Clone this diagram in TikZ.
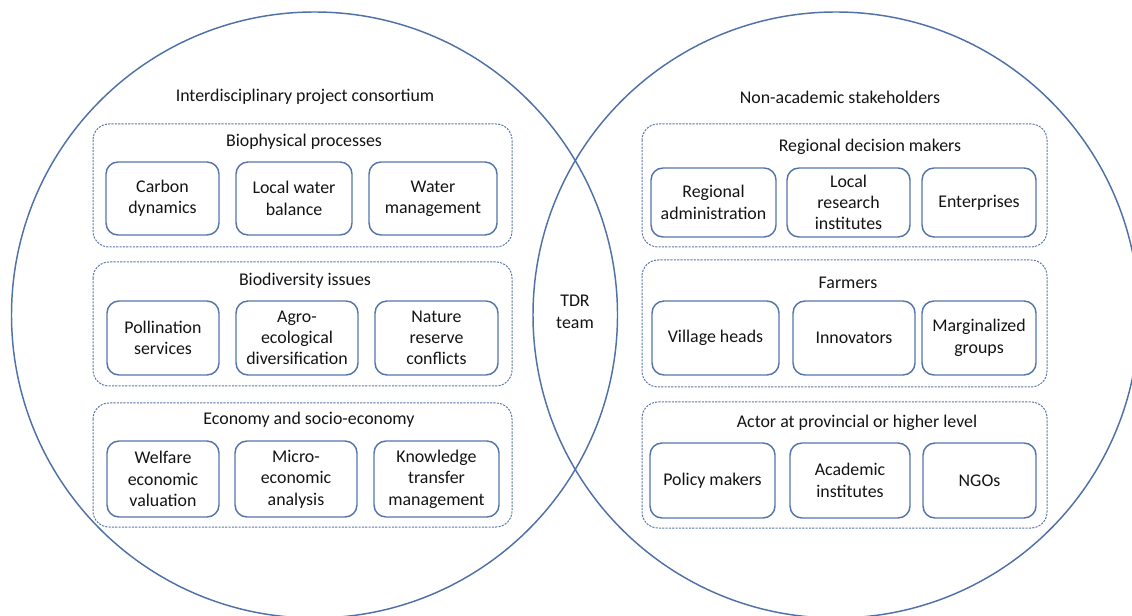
\documentclass[tikz,border=0pt]{standalone}
\usepackage{fontspec}
\setmainfont{Carlito}
\usetikzlibrary{positioning}
\definecolor{ringblue}{RGB}{79,113,168}
\definecolor{boxblue}{RGB}{84,116,170}
\definecolor{dashblue}{RGB}{90,118,168}
\definecolor{inktext}{RGB}{20,20,20}
\tikzset{
	ring/.style={draw=ringblue, line width=1.1pt},
	group/.style={draw=dashblue, line width=0.75pt, dash pattern=on 1.6pt off 0.9pt, rounded corners=12pt},
	item/.style={draw=boxblue, line width=1.1pt, rounded corners=9pt, align=center, inner sep=1pt, text=inktext},
	caption/.style={text=inktext, inner sep=0pt, align=center}
}

\begin{document}
\begin{tikzpicture}[x=0.75pt, y=-0.75pt, font=\fontsize{13.4pt}{16pt}\selectfont]
		%%%%% START %%%%%
		
		\useasboundingbox (0, 0) rectangle (1132, 616);
		
		\draw[ring] (314.5, 315) circle (227.25pt);
		\draw[ring] (836, 315) circle (227.25pt);
		
		\node[caption] (consortium) at (305, 97) {Interdisciplinary project consortium};
		\node[caption] (stakeholders) at (840, 97) {Non-academic stakeholders};
		\node[caption] (tdr) at (575, 312) {TDR\\team};
		
		%%%%% LEFT %%%%%
		\draw[group] (93, 124) rectangle (512, 247);
		\draw[group] (93, 262) rectangle (512, 386);
		\draw[group] (93, 403) rectangle (512, 527);
		
		\node[caption] (biophys) at (304, 142) {Biophysical processes};
		\node[item, minimum width=84.75pt, minimum height=54.75pt] (carbon) at (162.5, 198.5) {Carbon\\dynamics};
		\node[item, minimum width=87pt, minimum height=54.75pt] (water) at (294, 198.5) {Local water\\balance};
		\node[item, minimum width=96pt, minimum height=54.75pt] (watermgmt) at (433, 198.5) {Water\\management};
		
		\node[caption] (biodiv) at (305, 281) {Biodiversity issues};
		\node[item, minimum width=84pt, minimum height=55.5pt] (pollination) at (163, 338) {Pollination\\services};
		\node[item, minimum width=91.5pt, minimum height=55.5pt] (agro) at (297, 338) {Agro-\\ecological\\diversification};
		\node[item, minimum width=92.25pt, minimum height=55.5pt] (nature) at (436.5, 338) {Nature\\reserve\\conflicts};
		
		\node[caption] (economy) at (309, 420) {Economy and socio-economy};
		\node[item, minimum width=84pt, minimum height=57pt] (welfare) at (163, 479) {Welfare\\economic\\valuation};
		\node[item, minimum width=91.5pt, minimum height=57pt] (micro) at (296, 479) {Micro-\\economic\\analysis};
		\node[item, minimum width=93.75pt, minimum height=57pt] (knowledge) at (436.5, 479) {Knowledge\\transfer\\management};
		
		%%%%% RIGHT %%%%%
		\draw[group] (642, 124) rectangle (1047, 247);
		\draw[group] (642, 260) rectangle (1047, 387);
		\draw[group] (642, 402) rectangle (1047, 528);
		
		\node[caption] (regional) at (870, 147) {Regional decision makers};
		\node[item, minimum width=93.75pt, minimum height=51.75pt] (admin) at (713.5, 202.5) {Regional\\administration};
		\node[item, minimum width=92.25pt, minimum height=51.75pt] (research) at (848.5, 202.5) {Local\\research\\institutes};
		\node[item, minimum width=85.5pt, minimum height=51.75pt] (enterprises) at (979, 202.5) {Enterprises};
		
		\node[caption] (farmers) at (848, 283) {Farmers};
		\node[item, minimum width=95.25pt, minimum height=55.5pt] (village) at (715.5, 338) {Village heads};
		\node[item, minimum width=91.5pt, minimum height=55.5pt] (innovators) at (854, 338) {Innovators};
		\node[item, minimum width=85.5pt, minimum height=55.5pt] (marginal) at (979, 338) {Marginalized\\groups};
		
		\node[caption] (provincial) at (857, 423) {Actor at provincial or higher level};
		\node[item, minimum width=93.75pt, minimum height=56.25pt] (policy) at (712.5, 480.5) {Policy makers};
		\node[item, minimum width=90pt, minimum height=56.25pt] (academic) at (850, 480.5) {Academic\\institutes};
		\node[item, minimum width=84.75pt, minimum height=56.25pt] (ngos) at (979.5, 480.5) {NGOs};
		
		%%%%% END %%%%%
	\end{tikzpicture}
\end{document}
